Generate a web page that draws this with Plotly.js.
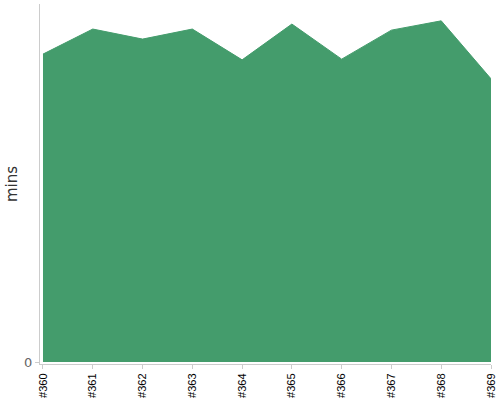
<!DOCTYPE html>
<html><head><meta charset="utf-8">
<script src="https://cdn.plot.ly/plotly-3.0.1.min.js"></script>
<style>html,body{margin:0;padding:0;background:#fff}#c{width:500px;height:400px}</style>
</head><body><div id="c"></div>
<script>
const builds = ['#360','#361','#362','#363','#364','#365','#366','#367','#368','#369'];
const mins = [86.0, 93.0, 90.2, 93.0, 84.4, 94.4, 84.6, 92.7, 95.3, 79.1];
const yTicks = [0];

const trace = {
  x: builds, y: mins, type: 'scatter', mode: 'lines',
  fill: 'tozeroy', fillcolor: '#449c6c',
  line: {color: '#449c6c', width: 1},
  hoverinfo: 'none'
};
const layout = {
  width: 500, height: 400,
  margin: {l: 40, r: 9, t: 4, b: 36},
  paper_bgcolor: '#fff', plot_bgcolor: '#fff',
  showlegend: false,
  font: {family: 'DejaVu Sans, sans-serif'},
  xaxis: {
    type: 'category', range: [-0.06, 9],
    showgrid: false, zeroline: false,
    showline: true, linecolor: '#ccc', linewidth: 1,
    ticks: 'outside', ticklen: 4, tickcolor: '#ccc',
    tickangle: -90, tickfont: {family: 'Liberation Sans, Arial, sans-serif', size: 11, color: '#000'}
  },
  yaxis: {
    range: [-0.56, 100],
    tickvals: yTicks, ticktext: ['0'],
    showgrid: false, zeroline: false,
    showline: true, linecolor: '#ccc', linewidth: 1,
    ticks: 'outside', ticklen: 4, tickcolor: '#ccc',
    tickfont: {size: 13, color: '#666'},
    title: {text: 'mins', font: {size: 15, color: '#333'}, standoff: 2}
  }
};
Plotly.newPlot('c', [trace], layout, {staticPlot: true, displayModeBar: false});
</script></body></html>
